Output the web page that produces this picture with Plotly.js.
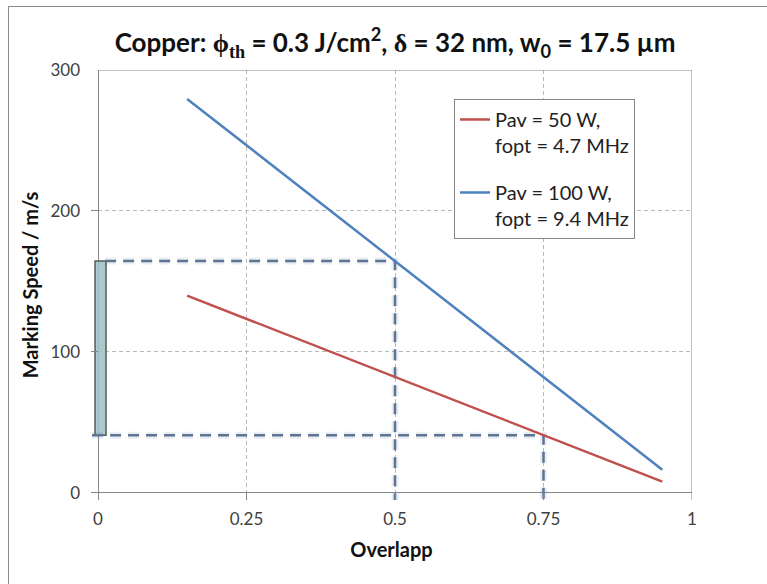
<!DOCTYPE html>
<html>
<head>
<meta charset="utf-8">
<script src="https://cdn.plot.ly/plotly-3.0.1.min.js"></script>
<style>
  html, body { margin: 0; padding: 0; background: #fff; overflow: hidden; }
  #wrap { position: relative; width: 767px; height: 584px; }
  #frame { position: absolute; left: 8px; top: 6px; width: 900px; height: 900px;
           border: 1px solid #8c8c8c; pointer-events: none; }
  #chart { position: absolute; left: 0; top: 0; width: 767px; height: 584px; }
</style>
</head>
<body>
<div id="wrap">
  <div id="chart"></div>
  <div id="frame"></div>
</div>
<script>
// ---- data ----
const overlap50 = [0.15, 0.5, 0.75, 0.95];
const speed50   = [140, 82.5, 41, 8];
const overlap100 = [0.15, 0.5, 0.75, 0.95];
const speed100   = [279.5, 164.5, 82, 16.5];

// guide lines (dashed): upper = 100 W at 0.5 overlap, lower = 50 W at 0.75 overlap
const guideUpperX = [0.012, 0.5, 0.5];
const guideUpperY = [164.5, 164.5, -5];
const guideLowerX = [-0.01, 0.75, 0.75];
const guideLowerY = [41, 41, -5];

// speed range band at overlap 0
const bandX = [-0.005, 0.0135, 0.0135, -0.005, -0.005];
const bandY = [41, 41, 164.5, 164.5, 41];

const xTicks = [0, 0.25, 0.5, 0.75, 1];
const xTickText = ['0', '0.25', '0.5', '0.75', '1'];
const yTicks = [0, 100, 200, 300];

const legend50 = 'Pav = 50 W,<br>fopt = 4.7 MHz';
const legend100 = 'Pav = 100 W,<br>fopt = 9.4 MHz';

const FONT = 'Lato, "Open Sans", sans-serif';
const AXC = '#868686';
const GUIDE = '#5b7594';

const traces = [
  { x: bandX, y: bandY, type: 'scatter', mode: 'lines', fill: 'toself',
    fillcolor: 'rgba(160,193,202,0.88)', line: { color: '#4f614f', width: 1.5 },
    showlegend: false, hoverinfo: 'skip' },
  // soft shadows of guide lines
  { x: guideUpperX, y: guideUpperY, type: 'scatter', mode: 'lines',
    line: { color: 'rgba(90,110,130,0.12)', width: 7, dash: '11px,7px' },
    showlegend: false, hoverinfo: 'skip' },
  { x: guideLowerX, y: guideLowerY, type: 'scatter', mode: 'lines',
    line: { color: 'rgba(90,110,130,0.12)', width: 7, dash: '11px,7px' },
    showlegend: false, hoverinfo: 'skip' },
  { x: guideUpperX, y: guideUpperY, type: 'scatter', mode: 'lines',
    line: { color: GUIDE, width: 2.5, dash: '11px,7px' },
    showlegend: false, hoverinfo: 'skip' },
  { x: guideLowerX, y: guideLowerY, type: 'scatter', mode: 'lines',
    line: { color: GUIDE, width: 2.5, dash: '11px,7px' },
    showlegend: false, hoverinfo: 'skip' },
  { x: overlap50, y: speed50, type: 'scatter', mode: 'lines', name: legend50,
    legendgroup: 'g50', line: { color: '#c0504d', width: 2.5 } },
  { x: overlap100, y: speed100, type: 'scatter', mode: 'lines', name: legend100,
    legendgroup: 'g100', line: { color: '#4f81bd', width: 2.5 } }
];

const layout = {
  width: 767, height: 584,
  margin: { l: 91, r: 75, t: 70, b: 84 },
  paper_bgcolor: '#fff', plot_bgcolor: '#fff',
  font: { family: FONT, color: '#404040' },
  title: {
    text: 'Copper: <span style="font-family:\'Liberation Serif\'">ϕ</span><sub><span style="font-family:\'Liberation Serif\'">th</span></sub> = 0.3 J/cm<sup>2</sup>, <span style="font-family:\'Liberation Serif\'">δ</span> = 32 nm, w<sub>0</sub> = 17.5 µm',
    font: { family: FONT, size: 26, color: '#111', weight: 'bold' },
    x: 0.506, xanchor: 'center', xref: 'paper',
    y: 0.926, yref: 'container', yanchor: 'middle'
  },
  xaxis: {
    range: [-0.0118, 1], tickvals: xTicks, ticktext: xTickText,
    showline: false, zeroline: true, zerolinecolor: AXC, zerolinewidth: 1,
    showgrid: true, gridcolor: '#b8b8b8', griddash: '4px,3px', gridwidth: 1,
    ticks: 'inside', ticklen: 7, tickcolor: AXC, tickwidth: 1,
    ticklabelstandoff: 7,
    tickfont: { size: 17, color: '#404040' },
    title: { text: 'Overlapp', font: { size: 20, color: '#111', weight: 'bold' }, standoff: 14 },
    fixedrange: true
  },
  yaxis: {
    range: [-5, 300], tickvals: yTicks,
    showline: false, zeroline: true, zerolinecolor: AXC, zerolinewidth: 1,
    showgrid: true, gridcolor: '#b8b8b8', griddash: '4px,3px', gridwidth: 1,
    ticks: 'inside', ticklen: 7, tickcolor: AXC, tickwidth: 1,
    ticklabelstandoff: 10,
    tickfont: { size: 17, color: '#404040' },
    title: { text: 'Marking Speed / m/s', font: { size: 20, color: '#111', weight: 'bold' }, standoff: 6 },
    fixedrange: true
  },
  shapes: [
    { type: 'line', xref: 'x', yref: 'y', x0: 0, x1: 1, y0: 300, y1: 300,
      line: { color: AXC, width: 1 } },
    { type: 'line', xref: 'x', yref: 'y', x0: 1, x1: 1, y0: -5, y1: 300,
      line: { color: AXC, width: 1 } }
  ],
  legend: {
    x: 0.604, y: 0.9326, xanchor: 'left', yanchor: 'top',
    bgcolor: '#fff', bordercolor: AXC, borderwidth: 1,
    font: { family: FONT, size: 20, color: '#222' },
    valign: 'top', tracegroupgap: 18, traceorder: 'grouped',
    itemwidth: 30
  },
  showlegend: true,
  hovermode: false
};

Plotly.newPlot('chart', traces, layout, { displayModeBar: false, staticPlot: true });
</script>
</body>
</html>
